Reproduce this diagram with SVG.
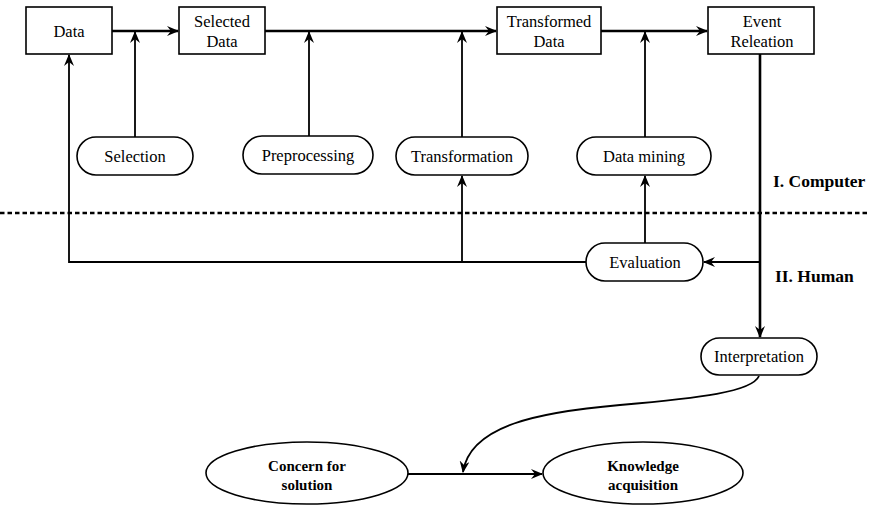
<svg xmlns="http://www.w3.org/2000/svg" width="869" height="505" viewBox="0 0 869 505">
<defs>
<style>
.box{fill:#fff;stroke:#000;stroke-width:1.6}
.ln{fill:none;stroke:#000;stroke-width:1.8}
.thick{fill:none;stroke:#000;stroke-width:2.6}
</style>
<marker id="ah" viewBox="0 0 12 10" refX="11" refY="5" markerWidth="12" markerHeight="10" markerUnits="userSpaceOnUse" orient="auto">
<path d="M0,0 L12,5 L0,10 L4,5 z" fill="#000"/>
</marker>
</defs>

<line x1="0" y1="213" x2="869" y2="213" stroke="#000" stroke-width="2.6" stroke-dasharray="4.5,3"/>

<g id="connectors">
<line class="thick" x1="112" y1="31" x2="178" y2="31" marker-end="url(#ah)"/>
<line class="thick" x1="265" y1="31" x2="496" y2="31" marker-end="url(#ah)"/>
<line class="thick" x1="601" y1="31" x2="707" y2="31" marker-end="url(#ah)"/>
<line class="ln" x1="135" y1="137" x2="135" y2="32" marker-end="url(#ah)"/>
<line class="ln" x1="309" y1="136" x2="309" y2="32" marker-end="url(#ah)"/>
<line class="ln" x1="462" y1="137" x2="462" y2="32" marker-end="url(#ah)"/>
<line class="ln" x1="645" y1="137" x2="645" y2="32" marker-end="url(#ah)"/>
<line class="thick" x1="760" y1="54" x2="760" y2="337" marker-end="url(#ah)"/>
<line class="ln" x1="760" y1="262" x2="704" y2="262" marker-end="url(#ah)"/>
<line class="ln" x1="645" y1="243" x2="645" y2="176" marker-end="url(#ah)"/>
<polyline class="ln" points="586,262 69,262 69,55" marker-end="url(#ah)"/>
<line class="ln" x1="462" y1="262" x2="462" y2="176" marker-end="url(#ah)"/>
<line class="ln" x1="408" y1="474" x2="542" y2="474" marker-end="url(#ah)"/>
<path class="ln" d="M759,376 C752,392 700,398 620,405 C540,412 470,425 463,472" marker-end="url(#ah)"/>
</g>

<g id="data"><rect class="box" x="26" y="7" width="86" height="47"/><text x="69" y="37" font-family="Liberation Serif" font-size="16.5" text-anchor="middle">Data</text></g>
<g id="selected-data"><rect class="box" x="179" y="7" width="86" height="47"/><text x="222" y="27" font-family="Liberation Serif" font-size="16.5" text-anchor="middle">Selected</text><text x="222" y="47" font-family="Liberation Serif" font-size="16.5" text-anchor="middle">Data</text></g>
<g id="transformed-data"><rect class="box" x="497" y="7" width="104" height="47"/><text x="549" y="27" font-family="Liberation Serif" font-size="16.5" text-anchor="middle">Transformed</text><text x="549" y="47" font-family="Liberation Serif" font-size="16.5" text-anchor="middle">Data</text></g>
<g id="event-relation"><rect class="box" x="708" y="7" width="106" height="47"/><text x="762" y="27" font-family="Liberation Serif" font-size="16.5" text-anchor="middle">Event</text><text x="762" y="47" font-family="Liberation Serif" font-size="16.5" text-anchor="middle">Releation</text></g>

<g id="selection"><rect class="box" x="77" y="137" width="116" height="38" rx="19"/><text x="135" y="162" font-family="Liberation Serif" font-size="16.5" text-anchor="middle">Selection</text></g>
<g id="preprocessing"><rect class="box" x="243" y="136" width="130" height="38" rx="19"/><text x="308" y="161" font-family="Liberation Serif" font-size="16.5" text-anchor="middle">Preprocessing</text></g>
<g id="transformation"><rect class="box" x="396" y="137" width="132" height="38" rx="19"/><text x="462" y="162" font-family="Liberation Serif" font-size="16.5" text-anchor="middle">Transformation</text></g>
<g id="data-mining"><rect class="box" x="577" y="137" width="134" height="38" rx="19"/><text x="644" y="162" font-family="Liberation Serif" font-size="16.5" text-anchor="middle">Data mining</text></g>
<g id="evaluation"><rect class="box" x="586" y="243" width="117" height="38" rx="19"/><text x="645" y="268" font-family="Liberation Serif" font-size="16.5" text-anchor="middle">Evaluation</text></g>
<g id="interpretation"><rect class="box" x="701" y="338" width="116" height="37" rx="18.5"/><text x="759" y="362" font-family="Liberation Serif" font-size="16.5" text-anchor="middle">Interpretation</text></g>

<g id="computer-label"><text x="773" y="187" font-family="Liberation Serif" font-size="17.5" font-weight="bold">I. Computer</text></g>
<g id="human-label"><text x="775" y="282" font-family="Liberation Serif" font-size="17.5" font-weight="bold">II. Human</text></g>

<g id="concern"><ellipse class="box" cx="307" cy="473" rx="101" ry="31"/><text x="307" y="471" font-family="Liberation Serif" font-size="15" font-weight="bold" text-anchor="middle">Concern for</text><text x="307" y="490" font-family="Liberation Serif" font-size="15" font-weight="bold" text-anchor="middle">solution</text></g>
<g id="knowledge"><ellipse class="box" cx="643" cy="473" rx="100" ry="31"/><text x="643" y="471" font-family="Liberation Serif" font-size="15" font-weight="bold" text-anchor="middle">Knowledge</text><text x="643" y="490" font-family="Liberation Serif" font-size="15" font-weight="bold" text-anchor="middle">acquisition</text></g>
</svg>
